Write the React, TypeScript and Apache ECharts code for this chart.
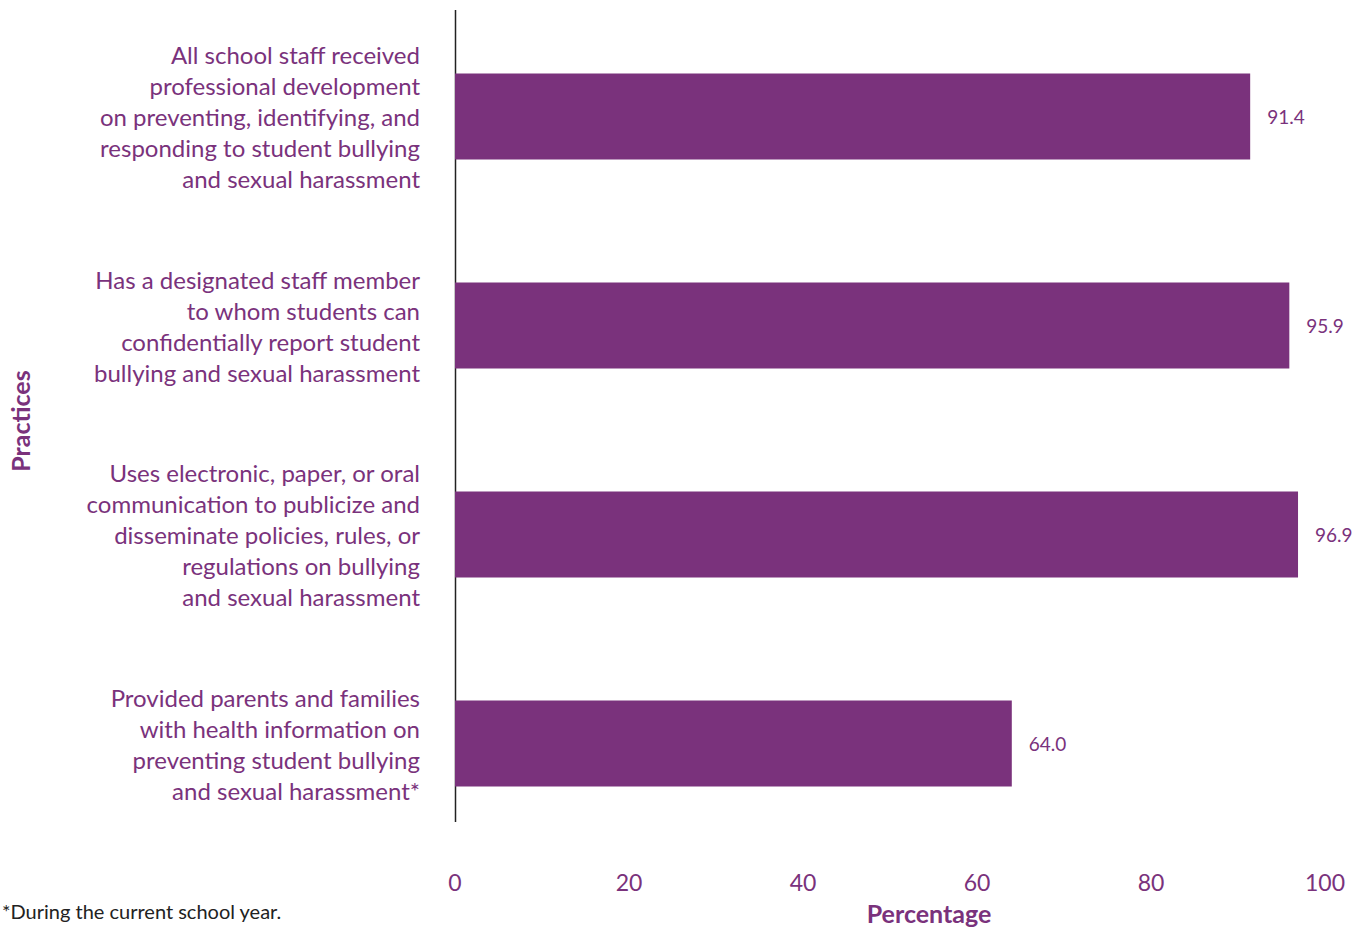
import React, { useEffect, useRef } from "react";
import * as echarts from "echarts";

const categories = [
  "All school staff received\nprofessional development\non preventing, identifying, and\nresponding to student bullying\nand sexual harassment",
  "Has a designated staff member\nto whom students can\nconfidentially report student\nbullying and sexual harassment",
  "Uses electronic, paper, or oral\ncommunication to publicize and\ndisseminate policies, rules, or\nregulations on bullying\nand sexual harassment",
  "Provided parents and families\nwith health information on\npreventing student bullying\nand sexual harassment*",
];
const values = [91.4, 95.9, 96.9, 64.0];
const xTicks = [0, 20, 40, 60, 80, 100];

const PURPLE = "#7a327c";
const FONT = "Lato";

export default function App() {
  const ref = useRef<HTMLDivElement>(null);
  useEffect(() => {
    const chart = echarts.init(ref.current!, null, { renderer: "svg" });
    chart.setOption({
      animation: false,
      textStyle: { fontFamily: FONT },
      grid: { left: 455, right: 29, top: 12, bottom: 80, containLabel: false, outerBoundsMode: "none" },
      xAxis: {
        type: "value",
        min: xTicks[0],
        max: xTicks[xTicks.length - 1],
        interval: 20,
        axisLine: { show: false },
        axisTick: { show: false },
        splitLine: { show: false },
        axisLabel: { color: PURPLE, fontSize: 23, margin: 22, fontFamily: FONT },
        name: "Percentage",
        nameLocation: "middle",
        nameGap: 52,
        nameTextStyle: {
          color: PURPLE,
          fontSize: 25,
          fontWeight: "bold",
          fontFamily: FONT,
          padding: [0, 0, 0, 78],
        },
      },
      yAxis: {
        type: "category",
        data: categories,
        inverse: true,
        axisLine: { show: false },
        axisTick: { show: false },
        axisLabel: {
          color: PURPLE,
          fontSize: 24,
          lineHeight: 31,
          margin: 35,
          align: "right",
          fontFamily: FONT,
        },
        name: "Practices",
        nameLocation: "middle",
        nameGap: 423,
        nameRotate: 90,
        nameTextStyle: { color: PURPLE, fontSize: 25, fontWeight: "bold", fontFamily: FONT, padding: [0, 0, 0, 18] },
      },
      series: [
        {
          type: "bar",
          data: values,
          barWidth: 86,
          itemStyle: { color: PURPLE },
          label: {
            show: true,
            position: "right",
            distance: 17,
            color: PURPLE,
            fontSize: 19,
            fontFamily: FONT,
            formatter: (p: any) => Number(p.value).toFixed(1),
          },
        },
      ],
      graphic: [
        {
          type: "line",
          shape: { x1: 455.5, y1: 10, x2: 455.5, y2: 822 },
          style: { stroke: "#222", lineWidth: 1.5 },
        },
        {
          type: "text",
          left: 2,
          top: 901,
          style: { text: "*During the current school year.", fontSize: 20, fill: "#222", fontFamily: FONT },
        },
      ],
    });
    return () => chart.dispose();
  }, []);
  return <div ref={ref} style={{ width: 1354, height: 928, position: "absolute", left: 0, top: 0 }} />;
}
